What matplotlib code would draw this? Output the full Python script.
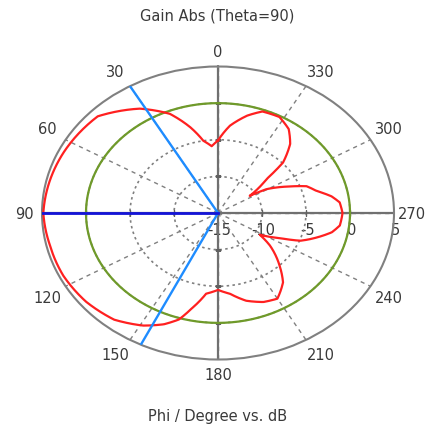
import numpy as np
import matplotlib
matplotlib.use('Agg')
import matplotlib.pyplot as plt

# ================== DATA ==================
PHI_DEG = [0, 4.5, 9.6, 15, 22, 32, 46, 65, 90, 103, 116, 129, 141, 151, 158,
           163, 167, 173, 180, 187, 195, 203, 210, 218, 224, 233, 238, 244,
           248, 251, 258.5, 263, 270, 276, 280, 285, 290, 294, 300.6, 303, 310,
           313, 319, 325, 332, 340, 346, 353.5, 360]
GAIN_DB = [-5.1, -5.85, -5.0, -2.9, -0.4, 1.8, 4.0, 4.4, 4.85, 4.6, 4.55, 4.27,
           3.74, 2.57, 1.38, 0.2, -1.6, -3.9, -4.5, -3.9, -2.6, -1.8, -1.5,
           -3.0, -4.9, -7.6, -9.4, -7.2, -4.9, -4.0, -1.8, -1.05, -0.85, -1.1,
           -1.9, -3.4, -4.3, -6.1, -8.6, -10.7, -7.8, -4.9, -2.5, -1.0, -0.15,
           -0.25, -1.3, -3.0, -5.1]
MAIN_DIR = 90          # main lobe direction
BEAM_EDGES = [30, 154]  # beam width markers
REF_LEVEL = 0          # reference circle (dB)
R_MIN, R_MAX = -15, 5
R_TICKS = [-15, -10, -5, 0, 5]
ANGLE_TICKS = list(range(0, 360, 30))

GRAY = '#808080'
TXT = '#3a3a3a'

# ================== PLOT ==================
fig = plt.figure(figsize=(4.30, 4.27), dpi=100)
ax = fig.add_axes([0.0977, 0.1557, 0.8186, 0.6862], projection='polar')
ax.set_aspect('auto')
ax.set_theta_zero_location('N')
ax.set_theta_direction(1)
ax.set_rlim(R_MIN, R_MAX)

ax.set_thetagrids(ANGLE_TICKS, [''] * len(ANGLE_TICKS))
ax.tick_params(axis='x', length=0)
ax.set_rticks(R_TICKS[1:-1])
ax.set_yticklabels([])
ax.tick_params(axis='y', length=0)
ax.xaxis.grid(True, color=GRAY, linestyle=(0, (3, 3)), linewidth=1.0)
ax.yaxis.grid(True, color=GRAY, linestyle=(0, (1.5, 2)), linewidth=1.2)
ax.spines['polar'].set_color(GRAY)
ax.spines['polar'].set_linewidth(1.5)

# angle labels just outside the rim (box-like offset, in points)
for a in ANGLE_TICKS:
    t = np.radians(a)
    dx = -13.0 * np.clip(np.sin(t) * 1.6, -1, 1)
    dy = 10.5 * np.clip(np.cos(t) * 1.6, -1, 1)
    ax.annotate(str(a), xy=(t, R_MAX), xytext=(dx, dy),
                textcoords='offset points', ha='center', va='center',
                fontsize=10.5, color=TXT, annotation_clip=False)

# crosshair axes
for a in [0, 90, 180, 270]:
    ax.axvline(np.radians(a), color='#707070', linewidth=1.6, zorder=2)
    mk = '|' if a in (90, 270) else '_'
    ax.plot(np.full(len(R_TICKS) - 2, np.radians(a)), R_TICKS[1:-1], linestyle='none',
            marker=mk, markersize=5, color='#606060', zorder=2)

# reference circle
th = np.radians(np.arange(0, 361, 1))
ax.plot(th, np.full(th.size, REF_LEVEL), color='#6f9a2a', linewidth=1.6, zorder=3)

# pattern (segments follow polar arcs)
line, = ax.plot(np.radians(PHI_DEG), GAIN_DB, color='#ff2020', linewidth=1.6, zorder=4)
line.get_path()._interpolation_steps = 40

# beam markers
for a in BEAM_EDGES:
    ax.plot([np.radians(a)] * 2, [R_MIN, R_MAX], color='#1e8cff', linewidth=1.7, zorder=5)
ax.plot([np.radians(MAIN_DIR)] * 2, [R_MIN, R_MAX], color='#1414d8', linewidth=2.0, zorder=5)

# radial labels along 270 direction
for r in R_TICKS:
    ax.annotate(str(r), xy=(np.radians(270), r), xytext=(1, -12),
                textcoords='offset points', ha='center', va='center',
                fontsize=10.5, color=TXT, zorder=1, annotation_clip=False)

fig.text(0.505, 0.962, 'Gain Abs (Theta=90)', ha='center', va='center', fontsize=10.5, color=TXT)
fig.text(0.505, 0.024, 'Phi / Degree vs. dB', ha='center', va='center', fontsize=10.5, color=TXT)

fig.savefig('out.png', dpi=100)
